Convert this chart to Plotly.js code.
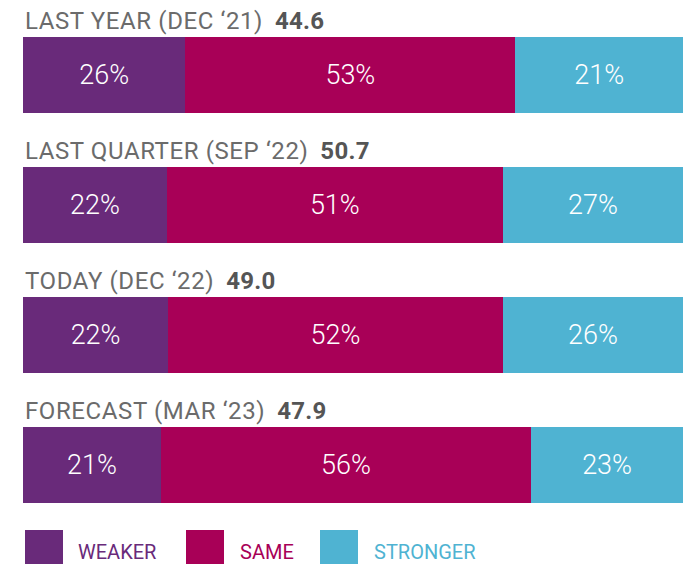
<!DOCTYPE html>
<html>
<head>
<meta charset="utf-8">
<script src="https://cdn.plot.ly/plotly-3.0.1.min.js"></script>
<style>
  html, body { margin: 0; padding: 0; background: #ffffff; }
  #chart { width: 689px; height: 564px; }
</style>
</head>
<body>
<div id="chart"></div>
<script>
// ---- data ----
const periods = ['LAST YEAR (DEC \u201821)', 'LAST QUARTER (SEP \u201822)', 'TODAY (DEC \u201822)', 'FORECAST (MAR \u201823)'];
const scores = ['44.6', '50.7', '49.0', '47.9'];
// shares printed on the bars
const weakerLabel = [26, 22, 22, 21];
const sameLabel = [53, 51, 52, 56];
const strongerLabel = [21, 27, 26, 23];
// segment lengths as drawn in the picture (percent of bar)
const weakerBar = [24.6, 21.8, 22.0, 20.9];
const sameBar = [50.0, 50.9, 50.7, 56.1];
const strongerBar = [25.4, 27.3, 27.3, 23.0];
const seriesNames = ['WEAKER', 'SAME', 'STRONGER'];

// ---- style ----
const colors = ['#692a7a', '#a80057', '#4fb3d2'];
const FONT = 'Roboto, "Open Sans", sans-serif';
const W = 689, H = 564, ML = 23, MR = 6;
const plotW = W - ML - MR;
const unitPx = 130;          // pixels per category
const firstCenterPx = 75;    // centre of first bar from top

const bars = [weakerBar, sameBar, strongerBar];
const labels = [weakerLabel, sameLabel, strongerLabel];

const traces = bars.map((vals, k) => ({
  type: 'bar',
  orientation: 'h',
  name: seriesNames[k],
  y: periods,
  x: vals,
  text: labels[k].map(v => v + '%'),
  textposition: 'inside',
  insidetextanchor: 'middle',
  textangle: 0,
  constraintext: 'none',
  textfont: { family: FONT, size: 27, color: '#ffffff', weight: 300 },
  marker: { color: colors[k], line: { width: 0 } },
  width: 0.585,
  hoverinfo: 'skip',
  showlegend: false
}));

const annotations = periods.map((p, i) => ({
  xref: 'paper', yref: 'y',
  x: 0, y: i - 54 / unitPx,
  xanchor: 'left', yanchor: 'middle',
  xshift: 0,
  showarrow: false,
  align: 'left',
  text: '<span style="letter-spacing:0.6px">' + p + '</span>  <b><span style="color:#555555;letter-spacing:0.3px">' + scores[i] + '</span></b>',
  font: { family: FONT, size: 24, color: '#6b6b6b' }
}));

// legend built from shapes + text
const shapes = [];
const legSquareX = [25, 186, 320];
const legLabelX = [76, 238, 372];
seriesNames.forEach((n, k) => {
  shapes.push({
    type: 'rect', xref: 'paper', yref: 'paper', layer: 'above',
    x0: (legSquareX[k] - ML) / plotW, x1: (legSquareX[k] + 38 - ML) / plotW,
    y0: 1 - 530 / H, y1: 1 - 580 / H,
    fillcolor: colors[k], line: { width: 0 }
  });
  annotations.push({
    xref: 'paper', yref: 'paper',
    x: (legLabelX[k] - ML) / plotW, y: 1 - 551.5 / H,
    xanchor: 'left', yanchor: 'middle', showarrow: false,
    text: n,
    font: { family: FONT, size: 20, color: colors[k] }
  });
});

const layout = {
  width: W, height: H,
  margin: { l: ML, r: MR, t: 0, b: 0, pad: 0 },
  paper_bgcolor: '#ffffff', plot_bgcolor: '#ffffff',
  barmode: 'stack',
  showlegend: false,
  xaxis: { range: [0, 100], visible: false, showgrid: false, zeroline: false, fixedrange: true },
  yaxis: {
    type: 'category',
    categoryorder: 'array', categoryarray: periods,
    range: [(H - firstCenterPx) / unitPx, -firstCenterPx / unitPx],
    visible: false, showgrid: false, zeroline: false, fixedrange: true
  },
  annotations: annotations,
  shapes: shapes
};

Plotly.newPlot('chart', traces, layout, { staticPlot: true, displayModeBar: false });
</script>
</body>
</html>
